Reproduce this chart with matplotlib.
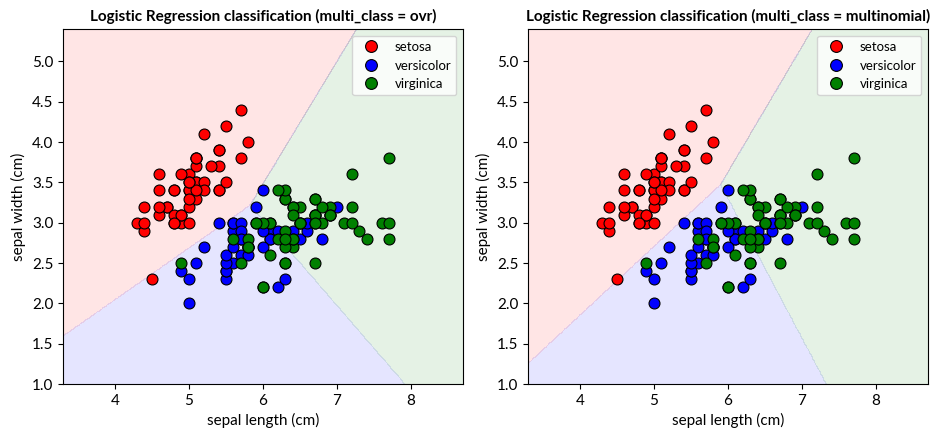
import numpy as np
import matplotlib
matplotlib.use('Agg')
import matplotlib.pyplot as plt
from matplotlib.lines import Line2D

plt.rcParams['font.family'] = ['Lato', 'DejaVu Sans']

setosa_len = [5.1, 4.9, 4.7, 4.6, 5.0, 5.4, 4.6, 5.0, 4.4, 4.9, 5.4, 4.8, 4.8, 4.3, 5.8, 5.7, 5.4,
              5.1, 5.7, 5.1, 5.4, 5.1, 4.6, 5.1, 4.8, 5.0, 5.0, 5.2, 5.2, 4.7, 4.8, 5.4, 5.2, 5.5,
              4.9, 5.0, 5.5, 4.9, 4.4, 5.1, 5.0, 4.5, 4.4, 5.0, 5.1, 4.8, 5.1, 4.6, 5.3, 5.0]
setosa_wid = [3.5, 3.0, 3.2, 3.1, 3.6, 3.9, 3.4, 3.4, 2.9, 3.1, 3.7, 3.4, 3.0, 3.0, 4.0, 4.4, 3.9,
              3.5, 3.8, 3.8, 3.4, 3.7, 3.6, 3.3, 3.4, 3.0, 3.4, 3.5, 3.4, 3.2, 3.1, 3.4, 4.1, 4.2,
              3.1, 3.2, 3.5, 3.6, 3.0, 3.4, 3.5, 2.3, 3.2, 3.5, 3.8, 3.0, 3.8, 3.2, 3.7, 3.3]
versi_len = [7.0, 6.4, 6.9, 5.5, 6.5, 5.7, 6.3, 4.9, 6.6, 5.2, 5.0, 5.9, 6.0, 6.1, 5.6, 6.7, 5.6,
             5.8, 6.2, 5.6, 5.9, 6.1, 6.3, 6.1, 6.4, 6.6, 6.8, 6.7, 6.0, 5.7, 5.5, 5.5, 5.8, 6.0,
             5.4, 6.0, 6.7, 6.3, 5.6, 5.5, 5.5, 6.1, 5.8, 5.0, 5.6, 5.7, 5.7, 6.2, 5.1, 5.7]
versi_wid = [3.2, 3.2, 3.1, 2.3, 2.8, 2.8, 3.3, 2.4, 2.9, 2.7, 2.0, 3.0, 2.2, 2.9, 2.9, 3.1, 3.0,
             2.7, 2.2, 2.5, 3.2, 2.8, 2.5, 2.8, 2.9, 3.0, 2.8, 3.0, 2.9, 2.6, 2.4, 2.4, 2.7, 2.7,
             3.0, 3.4, 3.1, 2.3, 3.0, 2.5, 2.6, 3.0, 2.6, 2.3, 2.7, 3.0, 2.9, 2.9, 2.5, 2.8]
virg_len = [6.3, 5.8, 7.1, 6.3, 6.5, 7.6, 4.9, 7.3, 6.7, 7.2, 6.5, 6.4, 6.8, 5.7, 5.8, 6.4, 6.5,
            7.7, 6.0, 6.9, 5.6, 7.7, 6.3, 6.7, 7.2, 6.2, 6.1, 6.4, 7.2, 7.4, 6.4, 6.3, 6.1,
            7.7, 6.3, 6.4, 6.0, 6.9, 6.7, 6.9, 5.8, 6.8, 6.7, 6.7, 6.3, 6.5, 6.2, 5.9]
virg_wid = [3.3, 2.7, 3.0, 2.9, 3.0, 3.0, 2.5, 2.9, 2.5, 3.6, 3.2, 2.7, 3.0, 2.5, 2.8, 3.2, 3.0,
            3.8, 2.2, 3.2, 2.8, 2.8, 2.7, 3.3, 3.2, 2.8, 3.0, 2.8, 3.0, 2.8, 2.8, 2.8, 2.6,
            3.0, 3.4, 3.1, 3.0, 3.1, 3.1, 3.1, 2.7, 3.2, 3.3, 3.0, 2.5, 3.0, 3.4, 3.0]

class_names = ['setosa', 'versicolor', 'virginica']
class_colors = ['red', 'blue', 'green']


def fit_binary(Xa, t, C=1.0, iters=50):
    w = np.zeros(Xa.shape[1])
    pen = np.array([1.0, 1.0, 0.0])
    for _ in range(iters):
        p = 1.0/(1.0 + np.exp(-Xa @ w))
        g = C*Xa.T @ (p - t) + pen*w
        H = C*(Xa.T * (p*(1-p))) @ Xa + np.diag(pen)
        w = w - np.linalg.solve(H, g)
    return w


def fit_multinomial(Xa, y, C=1.0, iters=60):
    K, D = 3, Xa.shape[1]
    T = np.eye(K)[y]
    th = np.zeros((K, D))
    pen = np.tile([1.0, 1.0, 0.0], K)
    for _ in range(iters):
        z = Xa @ th.T
        z -= z.max(axis=1, keepdims=True)
        P = np.exp(z); P /= P.sum(axis=1, keepdims=True)
        g = C*(P - T).T @ Xa + th*pen.reshape(K, D)
        H = np.diag(pen)
        for i in range(len(Xa)):
            A = np.diag(P[i]) - np.outer(P[i], P[i])
            H = H + C*np.kron(A, np.outer(Xa[i], Xa[i]))
        th = th - (np.linalg.pinv(H) @ g.ravel()).reshape(K, D)
    return th


def main():
    X = np.column_stack([np.r_[setosa_len, versi_len, virg_len],
                         np.r_[setosa_wid, versi_wid, virg_wid]])
    y = np.r_[np.zeros(len(setosa_len)), np.ones(len(versi_len)), 2*np.ones(len(virg_len))].astype(int)
    Xa = np.column_stack([X, np.ones(len(X))])

    x_min, x_max = X[:, 0].min() - 1, X[:, 0].max() + 1
    y_min, y_max = X[:, 1].min() - 1, X[:, 1].max() + 1
    h = 0.01
    xx, yy = np.meshgrid(np.arange(x_min, x_max + h, h), np.arange(y_min, y_max + h, h))
    grid = np.column_stack([xx.ravel(), yy.ravel(), np.ones(xx.size)])

    W_ovr = np.array([fit_binary(Xa, (y == k).astype(float)) for k in range(3)])
    W_mn = fit_multinomial(Xa, y)

    fig = plt.figure(figsize=(9.47, 4.4), dpi=100)
    boxes = [[0.0665, 0.127, 0.4224, 0.807], [0.5575, 0.127, 0.4224, 0.807]]
    for box, W, mc in zip(boxes, [W_ovr, W_mn], ['ovr', 'multinomial']):
        ax = fig.add_axes(box)
        Z = np.argmax(grid @ W.T, axis=1).reshape(xx.shape)
        ax.contourf(xx, yy, Z, levels=[-0.5, 0.5, 1.5, 2.5], colors=class_colors, alpha=0.1)
        for k in range(3):
            m = y == k
            ax.scatter(X[m, 0], X[m, 1], c=class_colors[k], s=62, edgecolors='black', linewidths=0.8, zorder=3)
        ax.set_xlim(x_min, x_max); ax.set_ylim(y_min, y_max)
        ax.set_xticks([4, 5, 6, 7, 8])
        ax.set_yticks(np.arange(1.0, 5.01, 0.5))
        ax.set_yticklabels([f'{v:.1f}' for v in np.arange(1.0, 5.01, 0.5)])
        ax.tick_params(labelsize=11)
        ax.set_xlabel('sepal length (cm)', fontsize=11)
        ax.set_ylabel('sepal width (cm)', fontsize=11)
        ax.set_title(f'Logistic Regression classification (multi_class = {mc})', fontsize=11, fontweight='bold')
        handles = [Line2D([0], [0], marker='o', ls='', markerfacecolor=c, markeredgecolor='black',
                          markeredgewidth=0.8, markersize=8.5, label=n) for n, c in zip(class_names, class_colors)]
        ax.legend(handles=handles, loc='upper right', fontsize=9.5)
    fig.savefig('out.png', dpi=100)


if __name__ == '__main__':
    main()
